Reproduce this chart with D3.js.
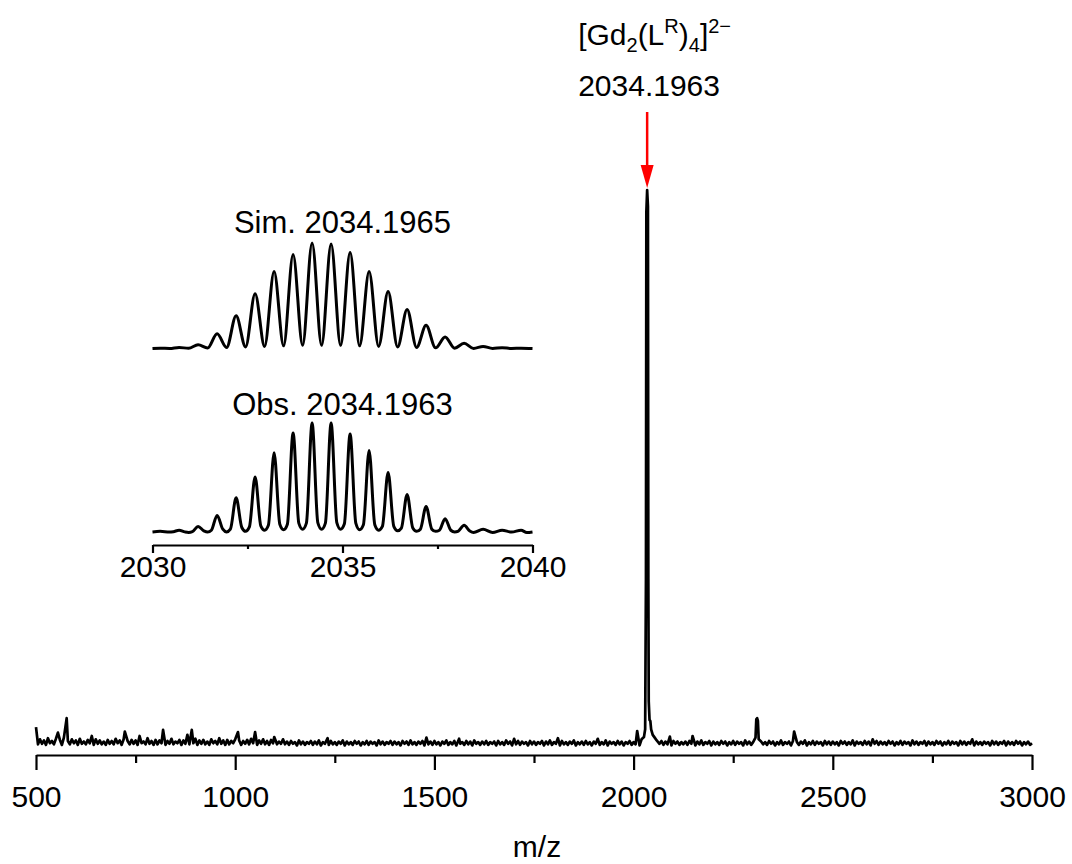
<!DOCTYPE html>
<html>
<head>
<meta charset="utf-8">
<script src="https://cdn.jsdelivr.net/npm/d3@7"></script>
<style>
  body { margin: 0; background: #fff; }
  svg { display: block; font-family: "Liberation Sans", Arial, sans-serif; }
</style>
</head>
<body>
<svg width="1072" height="864"></svg>
<script>
// baseline noise of the full spectrum, one value every 5 m/z from 500 (0.1 % units, peak = 1000)
const noiseStart = 500;
const noiseStep = 5;
const noise = [
  8,3,12,4,10,2,14,5,9,3,13,6,11,2,15,4,9,3,12,5,10,2,13,4,8,
  3,11,5,9,2,12,4,10,3,8,2,11,4,9,3,13,5,10,2,12,6,9,3,11,4,
  10,2,12,5,8,3,14,4,9,2,11,3,10,5,12,2,9,4,13,3,8,5,11,2,10,
  4,12,3,9,5,13,2,10,4,11,3,8,2,12,5,9,3,14,4,10,2,11,3,9,5,
  12,3,10,2,9,4,11,3,13,5,8,2,10,4,12,3,9,2,11,5,10,3,8,4,12,
  3,8,2,9,4,7,1,10,3,8,2,7,4,9,2,8,3,10,1,7,4,8,2,9,3,
  7,2,8,4,10,1,8,3,7,2,9,4,8,1,7,3,9,2,8,4,7,1,10,3,8,
  2,7,4,9,2,8,3,7,1,9,4,8,2,10,3,7,2,8,4,9,1,7,3,8,2,
  9,3,7,1,8,4,10,2,7,3,9,1,8,4,7,2,9,3,8,1,10,4,7,2,8,
  3,9,2,7,4,8,1,9,3,7,2,10,4,8,1,7,3,9,2,8,4,7,1,9,3,
  8,2,7,4,9,1,8,3,10,2,7,4,8,1,9,3,7,2,8,4,10,1,7,3,8,
  2,9,3,7,1,8,4,9,2,7,3,10,1,8,4,7,2,9,3,8,1,7,4,9,2,
  7,3,8,1,9,4,7,2,10,3,8,1,7,4,9,2,8,3,7,1,9,4,8,2,7,
  3,8,2,9,4,7,1,8,3,10,2,7,4,9,1,8,3,7,2,9,4,8,1,7,3,
  9,2,8,4,7,1,10,3,8,2,7,4,9,1,8,3,7,2,9,4,8,1,7,3,10,
  2,7,4,8,1,9,3,7,2,8,4,10,1,7,3,9,2,8,4,7,1,9,3,8,2,
  8,3,7,1,9,4,8,2,7,3,10,1,8,4,7,2,9,3,8,1,7,4,9,2,8,
  3,7,2,9,4,8,1,7,3,9,2,8,4,7,1,10,3,8,2,7,4,9,1,8,3,
  7,2,9,4,8,1,7,3,9,2,8,4,7,1,9,3,8,2,7,4,9,1,8,3,7,
  2,8,4,7,1,9,3,8,2,7,4,9,1,8,3,7,2,9,4,8,1,7,3,8,2,
  5
];

// peaks sitting on the baseline [m/z, intensity]
const peaks = [
  [500, 34], [555, 24], [577, 50], [640, 18], [723, 26], [760, 18], [819, 29],
  [880, 20], [891, 29], [1007, 25], [1050, 25], [1098, 16], [1232, 14], [1480, 15],
  [1562, 13], [1700, 13], [1810, 14], [1910, 13], [2009, 27],
  [2020, 12], [2026, 16], [2029, 30], [2031, 300], [2032, 960], [2034, 1000],
  [2036, 970], [2037, 300], [2038, 80], [2040, 47], [2042, 45], [2044, 30],
  [2048, 20], [2053, 15], [2058, 10],
  [2091, 17], [2148, 18], [2306, 15], [2308, 48], [2310, 50], [2312, 45],
  [2314, 12], [2403, 26], [2600, 12], [2850, 12]
];

const majorTicks = [500, 1000, 1500, 2000, 2500, 3000];
const minorTicks = [750, 1250, 1750, 2250, 2750];
const insetMajor = [2030, 2035, 2040];
const insetMinor = [2032.5, 2037.5];

// isotope pattern profiles [m/z, relative intensity %]
const simProfile = [
  [2030.0, 0], [2030.2, 0.3], [2030.45, 0], [2030.7, 1], [2030.95, 0.2],
  [2031.2, 3.5], [2031.45, 0.4], [2031.7, 14], [2031.95, 1], [2032.2, 31],
  [2032.45, 1.5], [2032.7, 52], [2032.95, 2], [2033.2, 73], [2033.45, 2.5],
  [2033.7, 89], [2033.95, 3], [2034.2, 100], [2034.45, 3], [2034.7, 99],
  [2034.95, 3], [2035.2, 91], [2035.45, 2.5], [2035.7, 73], [2035.95, 2],
  [2036.2, 54], [2036.45, 1.5], [2036.7, 37], [2036.95, 1], [2037.2, 22],
  [2037.45, 0.6], [2037.7, 11], [2037.95, 0.3], [2038.2, 5], [2038.45, 0.1],
  [2038.7, 2], [2038.95, 0], [2039.2, 0.8], [2039.45, 0], [2039.7, 0.3], [2040.0, 0]
];

const obsProfile = [
  [2030.0, 1], [2030.2, 1.5], [2030.45, 0.8], [2030.55, 1.2], [2030.7, 2.5],
  [2030.85, 1], [2030.95, 0.5], [2031.05, 1.2], [2031.2, 6], [2031.35, 2],
  [2031.45, 0.8], [2031.55, 2.5], [2031.7, 16], [2031.85, 3.5], [2031.95, 1],
  [2032.05, 3.5], [2032.2, 32], [2032.35, 5], [2032.45, 1.5], [2032.55, 5.5],
  [2032.7, 51], [2032.85, 6.5], [2032.95, 2.5], [2033.05, 7], [2033.2, 73],
  [2033.35, 8], [2033.45, 3], [2033.55, 8], [2033.7, 91], [2033.85, 9],
  [2033.95, 3.5], [2034.05, 9], [2034.2, 100], [2034.35, 9.5], [2034.45, 3.5],
  [2034.55, 9], [2034.7, 100], [2034.85, 9.5], [2034.95, 3.5], [2035.05, 8.5],
  [2035.2, 90], [2035.35, 9], [2035.45, 3], [2035.55, 7.5], [2035.7, 75],
  [2035.85, 7.5], [2035.95, 2.5], [2036.05, 6], [2036.2, 55], [2036.35, 6],
  [2036.45, 2], [2036.55, 4.5], [2036.7, 35], [2036.85, 4.5], [2036.95, 1.5],
  [2037.05, 3.5], [2037.2, 24], [2037.35, 3.5], [2037.45, 1.5], [2037.55, 2.5],
  [2037.7, 13], [2037.85, 2.5], [2037.95, 1], [2038.05, 1.8], [2038.2, 7],
  [2038.35, 1.8], [2038.45, 0.5], [2038.7, 3.5], [2038.95, 0.5], [2039.2, 2.5],
  [2039.45, 0.8], [2039.7, 2.5], [2039.85, 0.5], [2040.0, 1]
];

const peakMz = 2034;
const peakValue = '2034.1963';
const simLabel = 'Sim. 2034.1965';
const obsLabel = 'Obs. 2034.1963';
const xTitle = 'm/z';

const FONT = '"Liberation Sans", Arial, sans-serif';
const svg = d3.select('svg');
svg.append('rect').attr('width', 1072).attr('height', 864).attr('fill', '#fff');

const x = d3.scaleLinear().domain([500, 3000]).range([36, 1032]);
const y = d3.scaleLinear().domain([0, 1000]).range([746, 190]);

// merge baseline and peaks
let spectrum = noise.map((v, i) => [noiseStart + i * noiseStep, v])
    .filter(p => !peaks.some(q => Math.abs(q[0] - p[0]) < 2.6));
spectrum = spectrum.concat(peaks).sort((a, b) => a[0] - b[0]);

svg.append('path')
    .datum(spectrum)
    .attr('fill', 'none')
    .attr('stroke', '#000')
    .attr('stroke-width', 2.7)
    .attr('stroke-linejoin', 'round')
    .attr('d', d3.line().x(d => x(d[0])).y(d => y(d[1])));

// main x axis
const axisY = 755;
const gx = svg.append('g').attr('transform', `translate(0,${axisY})`)
    .call(d3.axisBottom(x).tickValues(majorTicks).tickSize(15).tickSizeOuter(0).tickPadding(16).tickFormat(d3.format('d')));
const gxm = svg.append('g').attr('transform', `translate(0,${axisY})`)
    .call(d3.axisBottom(x).tickValues(minorTicks).tickSize(8).tickSizeOuter(0).tickFormat(''));
gxm.select('.domain').remove();
svg.selectAll('.tick line').attr('stroke', '#000').attr('stroke-width', 2.2);
gx.select('.domain').attr('stroke', '#000').attr('stroke-width', 2.2);
gx.selectAll('text').attr('font-size', 30).attr('fill', '#000').attr('font-family', FONT);

svg.append('text')
    .attr('x', (x(500) + x(3000)) / 2 + 3)
    .attr('y', 857)
    .attr('text-anchor', 'middle')
    .attr('font-size', 30)
    .text(xTitle);

// annotation of the main peak
const ann = svg.append('text')
    .attr('x', x(peakMz) - 69)
    .attr('y', 45)
    .attr('font-size', 30);
ann.append('tspan').text('[Gd');
ann.append('tspan').attr('font-size', 20).attr('dy', 7).text('2');
ann.append('tspan').attr('dy', -7).text('(L');
ann.append('tspan').attr('font-size', 20).attr('dy', -12).text('R');
ann.append('tspan').attr('dy', 12).text(')');
ann.append('tspan').attr('font-size', 20).attr('dy', 7).text('4');
ann.append('tspan').attr('dy', -7).text(']');
ann.append('tspan').attr('font-size', 20).attr('dy', -12).text('2\u2212');

svg.append('text')
    .attr('x', x(peakMz) - 69)
    .attr('y', 96)
    .attr('font-size', 30)
    .text(peakValue);

const ax = x(peakMz);
svg.append('line')
    .attr('x1', ax).attr('x2', ax)
    .attr('y1', 112).attr('y2', 168)
    .attr('stroke', '#f00').attr('stroke-width', 2.5);
svg.append('path')
    .attr('d', `M${ax - 6.5},165 L${ax + 6.5},165 L${ax},188 Z`)
    .attr('fill', '#f00');

// inset: simulated and observed isotope patterns
const xi = d3.scaleLinear().domain([2030, 2040]).range([152.5, 532.5]);
const ySim = d3.scaleLinear().domain([0, 100]).range([348.5, 243]);
const yObs = d3.scaleLinear().domain([0, 100]).range([533, 423]);

svg.append('path')
    .datum(simProfile)
    .attr('fill', 'none')
    .attr('stroke', '#000')
    .attr('stroke-width', 3)
    .attr('d', d3.line().curve(d3.curveMonotoneX).x(d => xi(d[0])).y(d => ySim(d[1])));

svg.append('path')
    .datum(obsProfile)
    .attr('fill', 'none')
    .attr('stroke', '#000')
    .attr('stroke-width', 3)
    .attr('d', d3.line().curve(d3.curveMonotoneX).x(d => xi(d[0])).y(d => yObs(d[1])));

svg.append('text')
    .attr('x', xi(2035)).attr('y', 233)
    .attr('text-anchor', 'middle').attr('font-size', 31)
    .text(simLabel);
svg.append('text')
    .attr('x', xi(2035)).attr('y', 415)
    .attr('text-anchor', 'middle').attr('font-size', 31)
    .text(obsLabel);

const insetY = 545;
const gi = svg.append('g').attr('transform', `translate(0,${insetY})`)
    .call(d3.axisBottom(xi).tickValues(insetMajor).tickSize(8).tickSizeOuter(0).tickPadding(3).tickFormat(d3.format('d')));
const gim = svg.append('g').attr('transform', `translate(0,${insetY})`)
    .call(d3.axisBottom(xi).tickValues(insetMinor).tickSize(4).tickSizeOuter(0).tickFormat(''));
gim.select('.domain').remove();
gi.select('.domain').attr('stroke', '#000').attr('stroke-width', 2.2);
gi.selectAll('.tick line').attr('stroke', '#000').attr('stroke-width', 2.2);
gim.selectAll('.tick line').attr('stroke', '#000').attr('stroke-width', 2.2);
gi.selectAll('text').attr('font-size', 30).attr('fill', '#000').attr('font-family', FONT);
</script>
</body>
</html>
